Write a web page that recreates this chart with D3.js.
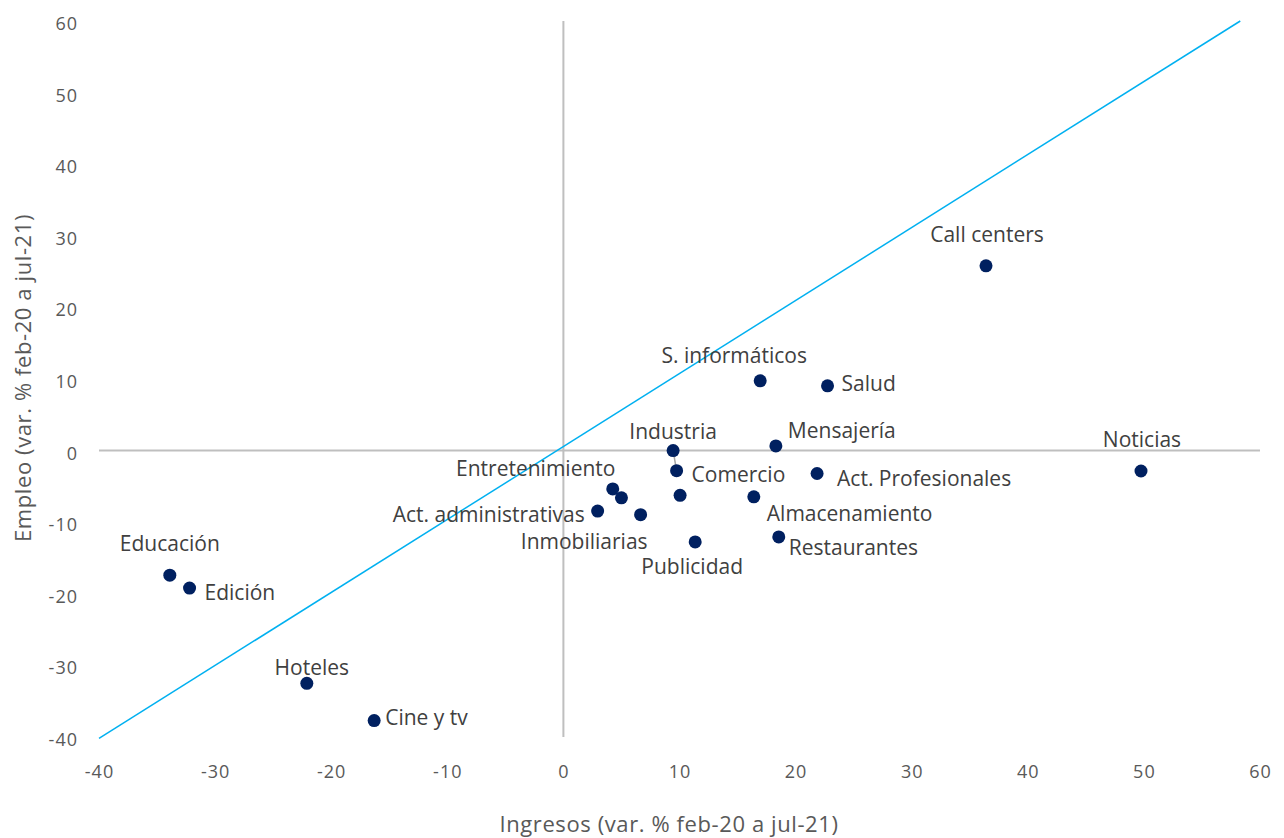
<!DOCTYPE html>
<html>
<head>
<meta charset="utf-8">
<script src="https://cdn.jsdelivr.net/npm/d3@7"></script>
<style>
  html, body { margin: 0; padding: 0; background: #fff; }
  svg { display: block; }
</style>
</head>
<body>
<svg id="chart" width="1284" height="838"></svg>
<script>
// Sector names (empty string = point without a label)
const sectors = [
  "Educación", "Edición", "Hoteles", "Cine y tv",
  "Act. administrativas", "Entretenimiento", "", "Inmobiliarias",
  "Industria", "Comercio", "", "Publicidad",
  "Almacenamiento", "S. informáticos", "Mensajería", "Restaurantes",
  "Act. Profesionales", "Salud", "Call centers", "Noticias"
];
// Ingresos, var. % feb-20 a jul-21
const ingresos = [
  -33.9, -32.2, -22.1, -16.3,
  2.95, 4.25, 5.0, 6.65,
  9.45, 9.75, 10.05, 11.35,
  16.4, 16.95, 18.3, 18.55,
  21.85, 22.75, 36.4, 49.75
];
// Empleo, var. % feb-20 a jul-21
const empleo = [
  -17.4, -19.2, -32.5, -37.7,
  -8.45, -5.35, -6.6, -8.95,
  0.0, -2.8, -6.25, -12.75,
  -6.45, 9.75, 0.65, -12.05,
  -3.2, 9.05, 25.8, -2.85
];
// Reference line end points
const refLineX = [-40, 58.3];
const refLineY = [-40.2, 60];
// Axis ticks
const xTicks = [-40, -30, -20, -10, 0, 10, 20, 30, 40, 50, 60];
const yTicks = [-40, -30, -20, -10, 0, 10, 20, 30, 40, 50, 60];
const xTitle = "Ingresos (var. % feb-20 a jul-21)";
const yTitle = "Empleo (var. % feb-20 a jul-21)";

// Label placement around each dot: [dx, dy, anchor]
const labelPlacement = [
  [0, -32, "middle"], [15, 4, "start"], [5, -16, "middle"], [11, -4, "start"],
  [-13, 3, "end"], [-77, -21, "middle"], [0, 0, "start"], [7, 26, "end"],
  [0, -20, "middle"], [15, 3, "start"], [0, 0, "start"], [-3, 24, "middle"],
  [13, 16, "start"], [-26, -26, "middle"], [12, -16, "start"], [10, 10, "start"],
  [20, 4, "start"], [14, -3, "start"], [1, -32, "middle"], [1, -32, "middle"]
];

const svg = d3.select("#chart");
const x = d3.scaleLinear().domain([-40, 60]).range([99, 1260]);
const y = d3.scaleLinear().domain([-40, 60]).range([737, 21]);

const labelFont = "'Open Sans', 'Noto Sans', sans-serif";
const tickFont = "'Open Sans', 'Noto Sans', sans-serif";

// Zero axes
svg.append("line")
  .attr("x1", x(-40)).attr("x2", x(60))
  .attr("y1", y(0)).attr("y2", y(0))
  .attr("stroke", "#BFBFBF").attr("stroke-width", 2);
svg.append("line")
  .attr("x1", x(0)).attr("x2", x(0))
  .attr("y1", y(60)).attr("y2", y(-40))
  .attr("stroke", "#BFBFBF").attr("stroke-width", 2);

// Tick labels (x along bottom, y along left)
svg.append("g").selectAll("text").data(xTicks).join("text")
  .attr("x", d => x(d) + 0.5)
  .attr("y", 771)
  .attr("text-anchor", "middle")
  .attr("dominant-baseline", "central")
  .attr("font-family", tickFont)
  .attr("font-size", 18)
  .attr("letter-spacing", 1)
  .attr("fill", "#595959")
  .text(d => d);
svg.append("g").selectAll("text").data(yTicks).join("text")
  .attr("x", 78)
  .attr("y", d => y(d) + 2)
  .attr("text-anchor", "end")
  .attr("dominant-baseline", "central")
  .attr("font-family", tickFont)
  .attr("font-size", 18)
  .attr("letter-spacing", 1)
  .attr("fill", "#595959")
  .text(d => d);

// Axis titles
svg.append("text")
  .attr("x", 669).attr("y", 823)
  .attr("text-anchor", "middle")
  .attr("dominant-baseline", "central")
  .attr("font-family", labelFont)
  .attr("font-size", 22)
  .attr("letter-spacing", 0.6)
  .attr("fill", "#595959")
  .text(xTitle);
svg.append("text")
  .attr("transform", "translate(22,378) rotate(-90)")
  .attr("text-anchor", "middle")
  .attr("dominant-baseline", "central")
  .attr("font-family", labelFont)
  .attr("font-size", 22)
  .attr("letter-spacing", 0.6)
  .attr("fill", "#595959")
  .text(yTitle);

// Reference line
svg.append("line")
  .attr("x1", x(refLineX[0])).attr("y1", y(refLineY[0]))
  .attr("x2", x(refLineX[1])).attr("y2", y(refLineY[1]))
  .attr("stroke", "#00B0F0").attr("stroke-width", 1.5);

// Leader line between Industria and Comercio
const iInd = sectors.indexOf("Industria"), iCom = sectors.indexOf("Comercio");
svg.append("line")
  .attr("x1", x(ingresos[iInd])).attr("y1", y(empleo[iInd]))
  .attr("x2", x(ingresos[iCom])).attr("y2", y(empleo[iCom]))
  .attr("stroke", "#A6A6A6").attr("stroke-width", 1.5);

const pts = sectors.map((s, i) => ({ name: s, x: ingresos[i], y: empleo[i], p: labelPlacement[i] }));

// Dots
svg.append("g").selectAll("circle").data(pts).join("circle")
  .attr("cx", d => x(d.x))
  .attr("cy", d => y(d.y))
  .attr("r", 6.5)
  .attr("fill", "#002060");

// Point labels
svg.append("g").selectAll("text").data(pts.filter(d => d.name)).join("text")
  .attr("x", d => x(d.x) + d.p[0])
  .attr("y", d => y(d.y) + d.p[1])
  .attr("text-anchor", d => d.p[2])
  .attr("dominant-baseline", "central")
  .attr("font-family", labelFont)
  .attr("font-size", 21)
  .attr("fill", "#404040")
  .text(d => d.name);
</script>
</body>
</html>
